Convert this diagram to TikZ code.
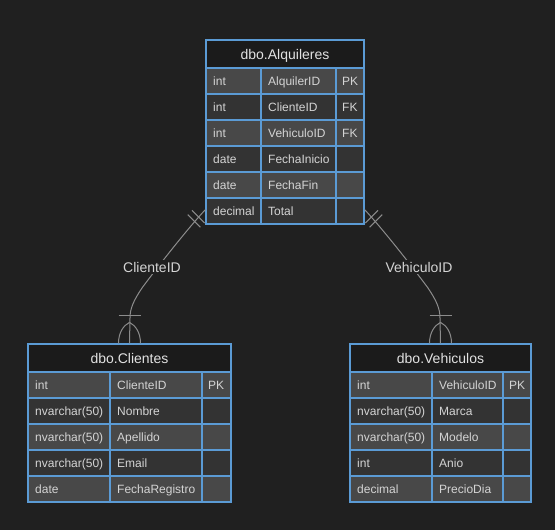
\documentclass[tikz,border=0pt]{standalone}
\usepackage{fontspec}
\setmainfont{Liberation Sans}
\usetikzlibrary{calc}
\definecolor{bgc}{HTML}{202020}
\definecolor{hdrc}{HTML}{1B1B1B}
\definecolor{rowodd}{HTML}{484848}
\definecolor{roweven}{HTML}{333333}
\definecolor{bordc}{HTML}{5B9BD5}
\definecolor{txtc}{HTML}{D4D4D4}
\definecolor{ttlc}{HTML}{E2E2E2}
\definecolor{linec}{HTML}{8C8C8C}
\tikzset{
  cell/.style={anchor=base west, inner sep=0pt, text=txtc, font=\fontsize{12}{14}\selectfont},
  ttl/.style={anchor=base, inner sep=0pt, text=ttlc, font=\fontsize{14}{16}\selectfont},
  tblbox/.style={draw=bordc, line width=1.2pt, inner sep=0pt, fill=none},
  grid/.style={draw=bordc, line width=1.2pt},
  rel/.style={draw=linec, line width=1pt},
  rellabel/.style={anchor=base, fill=bgc, inner sep=1.5pt, text=txtc, font=\fontsize{14}{16}\selectfont},
}
% #1 id, #2 left, #3 top, #4 col1, #5 col2, #6 right, #7 bottom, #8 title, #9 rows
\newcommand{\ertable}[9]{%
  \fill[hdrc] (#2,#3) rectangle (#6,#3+28);
  \node[ttl] (#1-title) at ({(#2+#6)/2},#3+19) {#8};
  \foreach \ty/\nm/\ky [count=\i] in {#9} {
    \pgfmathsetmacro\yt{#3+28+26*(\i-1)}
    \pgfmathtruncatemacro\odd{mod(\i,2)}
    \ifnum\odd=1 \def\rc{rowodd}\else\def\rc{roweven}\fi
    \fill[\rc] (#2,\yt) rectangle (#6,\yt+26);
    \node[cell] (#1-\i-t) at (#2+7,\yt+17.3) {\ty};
    \node[cell] (#1-\i-n) at (#4+7,\yt+17.3) {\nm};
    \node[cell] (#1-\i-k) at (#5+6,\yt+17.3) {\ky};
    \draw[grid] (#2,\yt) -- (#6,\yt);
  }
  \draw[grid] (#4,#3+28) -- (#4,#7);
  \draw[grid] (#5,#3+28) -- (#5,#7);
  \node[tblbox, minimum width={#6pt-#2pt}, minimum height={#7pt-#3pt}] (#1) at ({(#2+#6)/2},{(#3+#7)/2}) {};
}
\begin{document}
\begin{tikzpicture}[x=1pt,y=-1pt]
\fill[bgc] (0,0) rectangle (555,530);
\useasboundingbox (0,0) rectangle (555,530);

\ertable{alq}{206}{40}{261}{336}{364}{224}{dbo.Alquileres}{int/AlquilerID/PK, int/ClienteID/FK, int/VehiculoID/FK, date/FechaInicio/{}, date/FechaFin/{}, decimal/Total/{}}
\ertable{cli}{28}{344}{110}{202}{231}{502}{dbo.Clientes}{int/ClienteID/PK, nvarchar(50)/Nombre/{}, nvarchar(50)/Apellido/{}, nvarchar(50)/Email/{}, date/FechaRegistro/{}}
\ertable{veh}{350}{344}{432}{503}{531}{502}{dbo.Vehiculos}{int/VehiculoID/PK, nvarchar(50)/Marca/{}, nvarchar(50)/Modelo/{}, int/Anio/{}, decimal/PrecioDia/{}}

\coordinate (alqL) at ($(alq.south west)+(0,-15)$);
\coordinate (alqR) at ($(alq.south east)+(0,-15)$);

% relationships
\draw[rel] (alqL) .. controls (190,226) and (162,261) .. (142,288) .. controls (134,300) and (130,308) .. (130,318) -- (cli.north);
\draw[rel] (alqR) .. controls (380,226) and (408,261) .. (428,288) .. controls (436,300) and (440,308) .. (440,318) -- (veh.north);

% one-and-only-one markers at the Alquileres side
\begin{scope}[shift={(alqL)}]
  \draw[rel] (-13.43,0.71) -- (-0.71,13.43);
  \draw[rel] (-17.67,4.95) -- (-4.95,17.67);
\end{scope}
\begin{scope}[shift={(alqR)}]
  \draw[rel] (13.43,0.71) -- (0.71,13.43);
  \draw[rel] (17.67,4.95) -- (4.95,17.67);
\end{scope}

% one-or-many markers
\begin{scope}[shift={(cli.north)}]
  \draw[rel] (-11,-28) -- (11,-28);
  \draw[rel] (-11,0) .. controls (-11,-11) and (-6,-18) .. (0,-21);
  \draw[rel] (11,0) .. controls (11,-11) and (6,-18) .. (0,-21);
\end{scope}
\begin{scope}[shift={(veh.north)}]
  \draw[rel] (-11,-28) -- (11,-28);
  \draw[rel] (-11,0) .. controls (-11,-11) and (-6,-18) .. (0,-21);
  \draw[rel] (11,0) .. controls (11,-11) and (6,-18) .. (0,-21);
\end{scope}

\node[rellabel] (lblC) at (152,272) {ClienteID};
\node[rellabel] (lblV) at (419,272) {VehiculoID};
\end{tikzpicture}
\end{document}
